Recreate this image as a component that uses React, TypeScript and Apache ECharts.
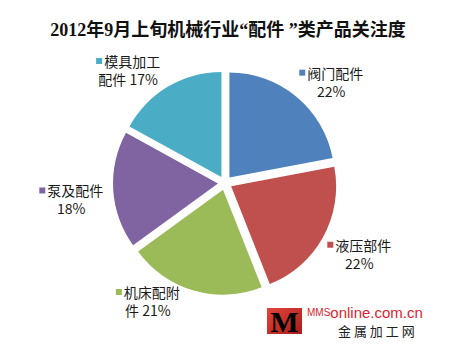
import React, { useEffect, useRef } from 'react';
import * as echarts from 'echarts';

const categories = ['阀门配件', '液压部件', '机床配附件', '泵及配件', '模具加工配件'];
const shares = [22, 22, 21, 18, 17];
const colors = ['#4F81BD', '#C0504D', '#9BBB59', '#8064A2', '#4BACC6'];
const titleText = '2012年9月上旬机械行业“配件 ”类产品关注度';

const cjk = '"Noto Sans CJK SC", "Liberation Sans", sans-serif';

export default function App() {
  const ref = useRef<HTMLDivElement>(null);
  useEffect(() => {
    document.body.style.margin = '0';
    const chart = echarts.init(ref.current!, null, { renderer: 'svg' });
    const mainData = categories.map((name, i) => ({
      name,
      value: shares[i],
      selected: true,
      itemStyle: { color: colors[i] },
    }));
    const labelData = categories.map((name, i) => ({ name, value: shares[i] }));
    const rich: any = {
      t: { fontSize: 14, color: '#1a1a1a', fontFamily: cjk, lineHeight: 18 },
      g: { width: 2, fontSize: 6 },
    };
    colors.forEach((c, i) => {
      rich['s' + i] = { width: 6, height: 6, backgroundColor: c, fontSize: 6, lineHeight: 6 };
    });
    // label placement nudges (layout only)
    const nudge: [number, number][] = [
      [10, 15],
      [2, -2],
      [-35, -27],
      [-3, 7],
      [-20, 17],
    ];
    chart.setOption({
      animation: false,
      backgroundColor: '#ffffff',
      title: {
        text: titleText,
        left: 223,
        textAlign: 'center',
        top: 16,
        textStyle: {
          fontSize: 18,
          fontWeight: 'bold',
          color: '#111',
          fontFamily: '"Liberation Serif", "Noto Sans CJK SC", serif',
        },
      },
      series: [
        {
          type: 'pie',
          center: [225, 183],
          radius: 105,
          startAngle: 90,
          clockwise: true,
          selectedMode: 'multiple',
          selectedOffset: 7,
          label: { show: false },
          labelLine: { show: false },
          emphasis: { disabled: true },
          itemStyle: { borderWidth: 0 },
          data: mainData,
        },
        {
          type: 'pie',
          center: [225, 183],
          radius: [140, 156],
          startAngle: 90,
          clockwise: true,
          silent: true,
          itemStyle: { color: 'rgba(0,0,0,0)', borderWidth: 0 },
          labelLine: { show: false },
          emphasis: { disabled: true },
          labelLayout: (p: any) => {
            const n = nudge[p.dataIndex] || [0, 0];
            return { dx: n[0], dy: n[1] };
          },
          label: {
            show: true,
            position: 'inside',
            color: '#1a1a1a',
            formatter: (p: any) => {
              const name: string = p.name;
              const head = name.slice(0, 4);
              const tail = name.slice(4);
              const second = (tail ? tail + ' ' : '') + p.value + '%';
              return `{s${p.dataIndex}| }{g| }{t|${head}}\n{t|${second}}`;
            },
            rich,
          },
          data: labelData,
        },
      ],
      graphic: [
        {
          type: 'rect',
          shape: { x: 267, y: 308, width: 35, height: 26 },
          style: {
            fill: new echarts.graphic.LinearGradient(0, 0, 1, 1, [
              { offset: 0, color: '#e2463a' },
              { offset: 1, color: '#a81c1c' },
            ]),
          },
        },
        {
          type: 'text',
          x: 284.5,
          y: 321,
          style: {
            text: 'M',
            align: 'center',
            verticalAlign: 'middle',
            font: 'bold 30px "Liberation Serif", serif',
            fill: new echarts.graphic.LinearGradient(0, 0, 0, 1, [
              { offset: 0, color: '#cfcfcf' },
              { offset: 1, color: '#2a2a2a' },
            ]),
          },
        },
        {
          type: 'text',
          x: 307,
          y: 312,
          style: {
            text: '{a|MMS}{b|online.com.cn}',
            verticalAlign: 'middle',
            rich: {
              a: { fontSize: 10, fill: '#d8262e', fontFamily: '"Liberation Sans", sans-serif' },
              b: { fontSize: 15, fill: '#d8262e', fontFamily: '"Liberation Sans", sans-serif' },
            },
          },
        },
        {
          type: 'text',
          x: 338,
          y: 330,
          style: {
            text: '金 属 加 工 网',
            verticalAlign: 'middle',
            font: '13px "Noto Sans CJK SC", sans-serif',
            fill: '#222',
          },
        },
      ],
    });
    return () => chart.dispose();
  }, []);
  return <div ref={ref} style={{ width: 450, height: 360 }} />;
}
